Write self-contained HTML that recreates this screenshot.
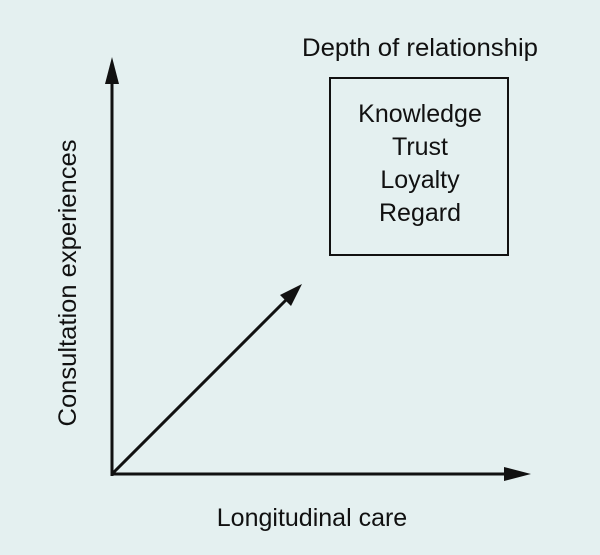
<!DOCTYPE html>
<html><head><style>
html,body{margin:0;padding:0;background:#e4f0f0;}
svg{display:block;}
text{font-family:"Liberation Sans",sans-serif;font-size:25px;fill:#111;}
</style></head><body>
<svg width="600" height="555" viewBox="0 0 600 555">
<rect width="600" height="555" fill="#e4f0f0"/>
<g stroke="#111" stroke-width="3" fill="none">
<line x1="112" y1="476" x2="112" y2="80"/>
<line x1="111" y1="474" x2="508" y2="474"/>
<line x1="112" y1="474" x2="290" y2="296"/>
<rect x="330" y="78" width="178" height="177" stroke-width="2"/>
</g>
<g fill="#111">
<polygon points="112,57 105,84 119,84"/>
<polygon points="531,474 504,467 504,481"/>
<polygon points="302,284 280,295 291,306"/>
</g>
<text x="420" y="56" text-anchor="middle" textLength="236" lengthAdjust="spacingAndGlyphs">Depth of relationship</text>
<text x="420" y="122" text-anchor="middle">Knowledge</text>
<text x="420" y="155" text-anchor="middle">Trust</text>
<text x="420" y="188" text-anchor="middle">Loyalty</text>
<text x="420" y="221" text-anchor="middle">Regard</text>
<text x="312" y="526" text-anchor="middle">Longitudinal care</text>
<text transform="translate(76,283) rotate(-90)" text-anchor="middle" textLength="287" lengthAdjust="spacingAndGlyphs">Consultation experiences</text>
</svg>
</body></html>
